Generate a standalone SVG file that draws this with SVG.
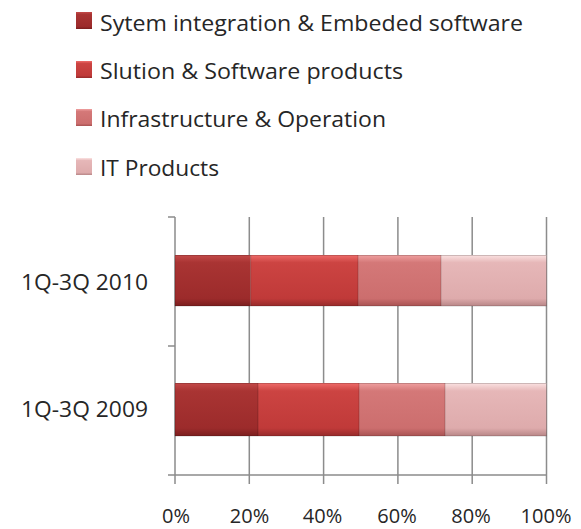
<svg xmlns="http://www.w3.org/2000/svg" width="581" height="529" viewBox="0 0 581 529">
<style>
.t{font-family:"Open Sans","Liberation Sans",sans-serif;fill:#262626;font-size:21.5px}
.ax{font-family:"Open Sans","Liberation Sans",sans-serif;fill:#262626;font-size:20px;text-anchor:middle}
.grid{stroke:#8c8c8c;stroke-width:1.5;fill:none}
.edge{fill:none;stroke:#000;stroke-opacity:0.18;stroke-width:1}
</style>
<defs>
<linearGradient id="g1" x1="0" y1="0" x2="0" y2="1">
<stop offset="0" stop-color="#c44a49"/><stop offset="0.15" stop-color="#a93433"/><stop offset="0.85" stop-color="#9c2b2b"/><stop offset="1" stop-color="#7a1e1e"/>
</linearGradient>
<linearGradient id="g2" x1="0" y1="0" x2="0" y2="1">
<stop offset="0" stop-color="#ef6c6a"/><stop offset="0.15" stop-color="#cc4442"/><stop offset="0.85" stop-color="#c03a39"/><stop offset="1" stop-color="#962a2a"/>
</linearGradient>
<linearGradient id="g3" x1="0" y1="0" x2="0" y2="1">
<stop offset="0" stop-color="#f0a0a0"/><stop offset="0.15" stop-color="#d47878"/><stop offset="0.85" stop-color="#cc6e6e"/><stop offset="1" stop-color="#a85252"/>
</linearGradient>
<linearGradient id="g4" x1="0" y1="0" x2="0" y2="1">
<stop offset="0" stop-color="#fbe2e2"/><stop offset="0.15" stop-color="#e6b7b8"/><stop offset="0.85" stop-color="#deabac"/><stop offset="1" stop-color="#b88687"/>
</linearGradient>
</defs>

<g id="legend">
<g id="leg1"><rect x="76" y="12" width="16" height="17" fill="url(#g1)"/><text class="t" x="100" y="31" textLength="423" lengthAdjust="spacingAndGlyphs">Sytem integration &amp; Embeded software</text></g>
<g id="leg2"><rect x="76" y="61" width="16" height="17" fill="url(#g2)"/><text class="t" x="100" y="79" textLength="303" lengthAdjust="spacingAndGlyphs">Slution &amp; Software products</text></g>
<g id="leg3"><rect x="76" y="109" width="16" height="17" fill="url(#g3)"/><text class="t" x="100" y="127" textLength="286" lengthAdjust="spacingAndGlyphs">Infrastructure &amp; Operation</text></g>
<g id="leg4"><rect x="76" y="158" width="16" height="17" fill="url(#g4)"/><text class="t" x="100" y="176" textLength="119" lengthAdjust="spacingAndGlyphs">IT Products</text></g>
</g>

<g id="axes">
<path class="grid" d="M249.3 217V484M323.6 217V484M397.9 217V484M472.2 217V484M546.5 217V484"/>
<path class="grid" d="M175 217V484M168 217H175M168 346H175M168 475H175M175 475H546.5"/>
</g>

<g id="bar2010">
<rect x="175" y="255" width="75.7" height="51" fill="url(#g1)"/>
<rect x="250.7" y="255" width="107.3" height="51" fill="url(#g2)"/>
<rect x="358" y="255" width="83" height="51" fill="url(#g3)"/>
<rect x="441" y="255" width="105.5" height="51" fill="url(#g4)"/>
<path class="edge" d="M175 255.5H546.5V306H175ZM250.7 255V306M358 255V306M441 255V306"/>
</g>

<g id="bar2009">
<rect x="175" y="383" width="83" height="53" fill="url(#g1)"/>
<rect x="258" y="383" width="101" height="53" fill="url(#g2)"/>
<rect x="359" y="383" width="86" height="53" fill="url(#g3)"/>
<rect x="445" y="383" width="101.5" height="53" fill="url(#g4)"/>
<path class="edge" d="M175 383.5H546.5V436H175ZM258 383V436M359 383V436M445 383V436"/>
</g>

<g id="labels">
<text class="t" x="21" y="290" textLength="127" lengthAdjust="spacingAndGlyphs">1Q-3Q 2010</text>
<text class="t" x="21" y="417" textLength="127" lengthAdjust="spacingAndGlyphs">1Q-3Q 2009</text>
<text class="ax" x="176" y="523">0%</text>
<text class="ax" x="249.5" y="523">20%</text>
<text class="ax" x="322.5" y="523">40%</text>
<text class="ax" x="397" y="523">60%</text>
<text class="ax" x="471" y="523">80%</text>
<text class="ax" x="546" y="523">100%</text>
</g>
</svg>
